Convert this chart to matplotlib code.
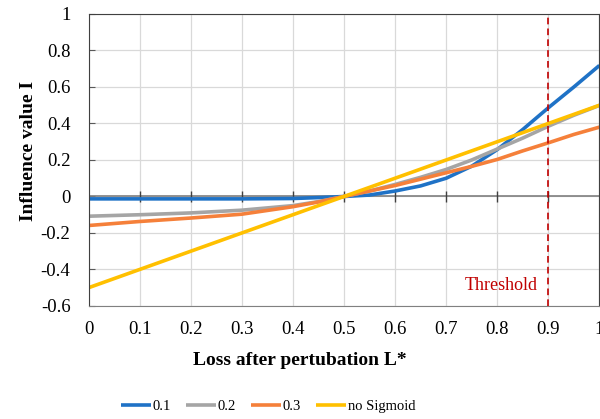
import matplotlib
matplotlib.use("Agg")
import matplotlib.pyplot as plt
import numpy as np

# ---- data -----------------------------------------------------------------
loss = [0.0, 0.1, 0.2, 0.3, 0.4, 0.45, 0.5, 0.55, 0.6, 0.65, 0.7, 0.75, 0.8, 0.85, 0.9, 0.95, 1.0]
t01 = [-0.013, -0.013, -0.013, -0.013, -0.011, -0.006, 0.0, 0.008, 0.03, 0.058, 0.10, 0.166, 0.257, 0.367, 0.486, 0.60, 0.718]
t02 = [-0.108, -0.100, -0.090, -0.075, -0.050, -0.028, 0.0, 0.030, 0.066, 0.105, 0.148, 0.200, 0.260, 0.320, 0.385, 0.445, 0.499]
t03 = [-0.159, -0.137, -0.118, -0.097, -0.056, -0.030, 0.0, 0.030, 0.060, 0.095, 0.130, 0.165, 0.203, 0.250, 0.294, 0.340, 0.380]
nosig = [-0.5, -0.4, -0.3, -0.2, -0.1, -0.05, 0.0, 0.05, 0.1, 0.15, 0.2, 0.25, 0.3, 0.35, 0.4, 0.45, 0.5]

series = [("0.1", t01, "#1F72C6"), ("0.2", t02, "#A5A5A5"),
          ("0.3", t03, "#F5803A"), ("no Sigmoid", nosig, "#FFC000")]

xticks = [0, 0.1, 0.2, 0.3, 0.4, 0.5, 0.6, 0.7, 0.8, 0.9, 1]
xlabels = ["0", "0.1", "0.2", "0.3", "0.4", "0.5", "0.6", "0.7", "0.8", "0.9", "1"]
yticks = [-0.6, -0.4, -0.2, 0, 0.2, 0.4, 0.6, 0.8, 1]
ylabels = ["-0.6", "-0.4", "-0.2", "0", "0.2", "0.4", "0.6", "0.8", "1"]
threshold = 0.9

plt.rcParams["font.family"] = ["Liberation Serif", "DejaVu Serif"]

fig = plt.figure(figsize=(6.0, 4.19), dpi=100)
ax = fig.add_axes([0.1475, 0.2697, 0.8515, 0.6969])

ax.set_xlim(0, 1)
ax.set_ylim(-0.6, 1)
ax.set_xticks(xticks)
ax.set_xticklabels(xlabels)
ax.set_yticks(yticks)
ax.set_yticklabels(ylabels)
ax.grid(True, color="#D9D9D9", lw=0.9)
ax.set_axisbelow(True)
ax.tick_params(axis="x", length=0, pad=11, labelsize=13.5)
ax.tick_params(axis="y", direction="in", length=4, color="#595959", pad=13, labelsize=13.5)

for side in ["top", "left", "right"]:
    ax.spines[side].set_color("#404040")
ax.spines["bottom"].set_color("#808080")

# zero axis with crossing ticks, Excel style
ax.axhline(0, color="#7F7F7F", lw=1.2, zorder=1)
ax.vlines(xticks[1:-1], -0.028, 0.028, color="#404040", lw=1.0, zorder=1)

for name, vals, col in series:
    ax.plot(loss, vals, color=col, lw=2.6, label=name, solid_capstyle="butt")

ax.axvline(threshold, color="#C00000", lw=1.2, ls=(0, (4, 2.5)), zorder=3)
ax.text(0.88, -0.49, "Threshold", color="#C00000", fontsize=13,
        ha="right", va="center")

ax.set_ylabel("Influence value I", fontsize=14, fontweight="bold")
ax.yaxis.set_label_coords(-0.10, 0.53)
fig.text(0.5, 1 - 360 / 419, "Loss after pertubation L*", fontsize=14,
         fontweight="bold", ha="center", va="center")

fig.legend(loc="center", bbox_to_anchor=(268 / 600, 1 - 406 / 419), ncol=4,
           frameon=False, fontsize=10.5, handlelength=2.1, handletextpad=0.1,
           columnspacing=1.0)

fig.savefig("out.png", dpi=100)
